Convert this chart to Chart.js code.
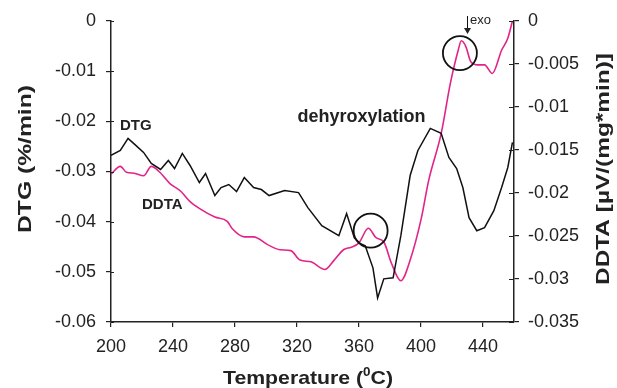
<!DOCTYPE html>
<html>
<head>
<meta charset="utf-8">
<script src="https://cdn.jsdelivr.net/npm/chart.js@4"></script>
<style>
  html, body { margin: 0; padding: 0; background: #fff; }
  #wrap { width: 617px; height: 388px; }
</style>
</head>
<body>
<div id="wrap"><canvas id="chart" width="617" height="388"></canvas></div>
<script>
// temperatura (°C) y valores
const tempDTG = [200, 206, 211, 216, 221, 226, 232, 237, 241, 246, 251, 257, 261, 267, 271, 276, 281, 286, 292, 297,
  302, 312, 321, 327, 336, 347, 352, 357, 361, 364, 369, 372, 376, 382, 387, 393, 398, 406, 413, 418,
  423, 427, 431, 436, 441, 447, 452, 456, 459];
const dtgValues = [-0.0268, -0.0258, -0.0234, -0.0248, -0.0262, -0.0284, -0.0296, -0.0278, -0.0294, -0.0264,
  -0.0288, -0.0322, -0.0304, -0.0348, -0.0332, -0.0326, -0.034, -0.0312, -0.0332, -0.0336,
  -0.0348, -0.0338, -0.0342, -0.0372, -0.0408, -0.0428, -0.0384, -0.0432, -0.0444, -0.0448,
  -0.0492, -0.0552, -0.0514, -0.0512, -0.0428, -0.0308, -0.0258, -0.0214, -0.0224, -0.0272,
  -0.0294, -0.0332, -0.0392, -0.0418, -0.0412, -0.0378, -0.0332, -0.0292, -0.0242];

const tempDDTA = [200, 206, 210, 215, 221, 226, 231, 238, 245, 251, 258, 267, 275, 278, 286, 292, 301, 309, 316, 322,
  329, 338, 344, 350, 355, 360, 366, 371, 376, 381, 387, 393, 400, 405, 413, 419, 424, 426, 429, 432,
  436, 441, 446, 452, 456, 459];
const ddtaValues = [-0.0178, -0.0169, -0.0176, -0.0177, -0.018, -0.0169, -0.0175, -0.0189, -0.0198, -0.021,
  -0.0219, -0.0228, -0.0233, -0.0241, -0.0251, -0.0251, -0.026, -0.0266, -0.0267, -0.0278,
  -0.028, -0.0289, -0.0278, -0.0266, -0.0263, -0.0258, -0.0241, -0.0252, -0.0257, -0.0282,
  -0.0302, -0.0278, -0.0231, -0.0185, -0.0131, -0.0072, -0.0034, -0.0023, -0.003, -0.0047,
  -0.0051, -0.0051, -0.0061, -0.0034, -0.002, 0];

const xTicks = [200, 240, 280, 320, 360, 400, 440];

const FONT = "'Liberation Sans', Arial, Helvetica, sans-serif";
const INK = "#222";

const toPoints = (xs, ys) => xs.map((x, i) => ({ x, y: ys[i] }));
const fmt = v => (Math.abs(v) < 1e-9 ? "0" : String(+v.toFixed(3)));

// texto ajustado a un ancho dado (la figura original usa letra más ancha)
const fitText = (ctx, text, x, y, size, width, rot) => {
  ctx.save();
  ctx.translate(x, y);
  ctx.rotate(rot);
  ctx.font = `bold ${size}px ${FONT}`;
  const w = ctx.measureText(text).width;
  ctx.scale(width / w, 1);
  ctx.textAlign = "center";
  ctx.textBaseline = "middle";
  ctx.fillText(text, 0, 0);
  ctx.restore();
};

const anotaciones = {
  id: "anotaciones",
  afterDraw(chart) {
    const { ctx, chartArea, scales } = chart;
    const sx = scales.x, sy = scales.y;
    ctx.save();
    ctx.fillStyle = INK;
    ctx.strokeStyle = INK;

    // marcas interiores de los ejes verticales
    ctx.lineWidth = 1.2;
    ctx.beginPath();
    sy.ticks.forEach(t => {
      const py = Math.round(sy.getPixelForValue(t.value)) + 0.5;
      ctx.moveTo(chartArea.left, py);
      ctx.lineTo(chartArea.left + 3, py);
    });
    scales.y2.ticks.forEach(t => {
      const py = Math.round(scales.y2.getPixelForValue(t.value)) + 0.5;
      ctx.moveTo(chartArea.right, py);
      ctx.lineTo(chartArea.right - 5, py);
    });
    ctx.stroke();

    // círculos
    ctx.lineWidth = 1.8;
    ctx.strokeStyle = "#111";
    [[425.1, -0.0064], [367.5, -0.0418]].forEach(([t, v]) => {
      ctx.beginPath();
      ctx.arc(sx.getPixelForValue(t), sy.getPixelForValue(v), 17, 0, Math.PI * 2);
      ctx.stroke();
    });

    // flecha exo
    const ax = Math.round(sx.getPixelForValue(429.6)) + 0.5;
    const ay0 = sy.getPixelForValue(0.001);
    const ay1 = sy.getPixelForValue(-0.0026);
    ctx.lineWidth = 1;
    ctx.beginPath();
    ctx.moveTo(ax, ay0);
    ctx.lineTo(ax, ay1 - 5);
    ctx.stroke();
    ctx.beginPath();
    ctx.moveTo(ax - 3.5, ay1 - 6);
    ctx.lineTo(ax + 3.5, ay1 - 6);
    ctx.lineTo(ax, ay1);
    ctx.closePath();
    ctx.fill();

    ctx.textAlign = "left";
    ctx.textBaseline = "alphabetic";
    ctx.font = `13px ${FONT}`;
    ctx.fillText("exo", sx.getPixelForValue(431.6), sy.getPixelForValue(-0.0006));

    ctx.font = `bold 15px ${FONT}`;
    ctx.fillText("DTG", sx.getPixelForValue(205.8), sy.getPixelForValue(-0.0218));
    ctx.fillText("DDTA", sx.getPixelForValue(220), sy.getPixelForValue(-0.0374));
    ctx.font = `bold 18px ${FONT}`;
    ctx.fillText("dehyroxylation", sx.getPixelForValue(320.3), sy.getPixelForValue(-0.0202));

    // títulos de ejes
    fitText(ctx, "DTG (%/min)", chartArea.left - 85, 159, 19, 148, -Math.PI / 2);
    fitText(ctx, "DDTA [µV/(mg*min)]", chartArea.right + 90, 169, 19, 232, -Math.PI / 2);

    // Temperature (⁰C) con superíndice
    const big = `bold 19px ${FONT}`, small = `bold 12px ${FONT}`;
    ctx.font = big;
    const a = "Temperature (", c = "C)";
    const wa = ctx.measureText(a).width, wc = ctx.measureText(c).width;
    ctx.font = small;
    const wb = ctx.measureText("0").width;
    const total = wa + wb + wc;
    const k = 170 / total;
    ctx.save();
    ctx.translate(308 - 85, 384);
    ctx.scale(k, 1);
    ctx.textAlign = "left";
    ctx.font = big;
    ctx.fillText(a, 0, 0);
    ctx.font = small;
    ctx.fillText("0", wa, -8);
    ctx.font = big;
    ctx.fillText(c, wa + wb, 0);
    ctx.restore();

    ctx.restore();
  }
};

new Chart(document.getElementById("chart"), {
  type: "line",
  data: {
    datasets: [
      {
        label: "DTG",
        data: toPoints(tempDTG, dtgValues),
        yAxisID: "y",
        borderColor: "#111",
        borderWidth: 1.5,
        pointRadius: 0,
        tension: 0
      },
      {
        label: "DDTA",
        data: toPoints(tempDDTA, ddtaValues),
        yAxisID: "y2",
        borderColor: "#e2248a",
        borderWidth: 1.6,
        pointRadius: 0,
        cubicInterpolationMode: "monotone"
      }
    ]
  },
  options: {
    responsive: false,
    animation: false,
    devicePixelRatio: 1,
    layout: { padding: { top: 21, left: 0, right: 0, bottom: 0 } },
    plugins: { legend: { display: false }, tooltip: { enabled: false } },
    scales: {
      x: {
        type: "linear",
        min: 200,
        max: 460,
        afterBuildTicks: scale => { scale.ticks = xTicks.map(value => ({ value })); },
        afterFit: scale => { scale.height = 66; },
        border: { display: true, color: INK, width: 1.5 },
        grid: { drawOnChartArea: false, drawTicks: true, tickLength: 5, color: INK, lineWidth: 1.2 },
        ticks: { color: INK, font: { family: FONT, size: 18 }, padding: 9, maxRotation: 0, callback: v => String(v) }
      },
      y: {
        position: "left",
        min: -0.06,
        max: 0,
        afterFit: scale => { scale.width = 111; },
        border: { display: true, color: INK, width: 1.5 },
        grid: { drawOnChartArea: false, drawTicks: true, tickLength: 5, color: INK, lineWidth: 1.2 },
        ticks: { stepSize: 0.01, color: INK, font: { family: FONT, size: 18 }, padding: 10, callback: fmt }
      },
      y2: {
        position: "right",
        min: -0.035,
        max: 0,
        afterFit: scale => { scale.width = 103; },
        border: { display: true, color: INK, width: 1.5 },
        grid: { drawOnChartArea: false, drawTicks: true, tickLength: 5, color: INK, lineWidth: 1.2 },
        ticks: { stepSize: 0.005, color: INK, font: { family: FONT, size: 18 }, padding: 9, callback: fmt }
      }
    }
  },
  plugins: [anotaciones]
});
</script>
</body>
</html>
